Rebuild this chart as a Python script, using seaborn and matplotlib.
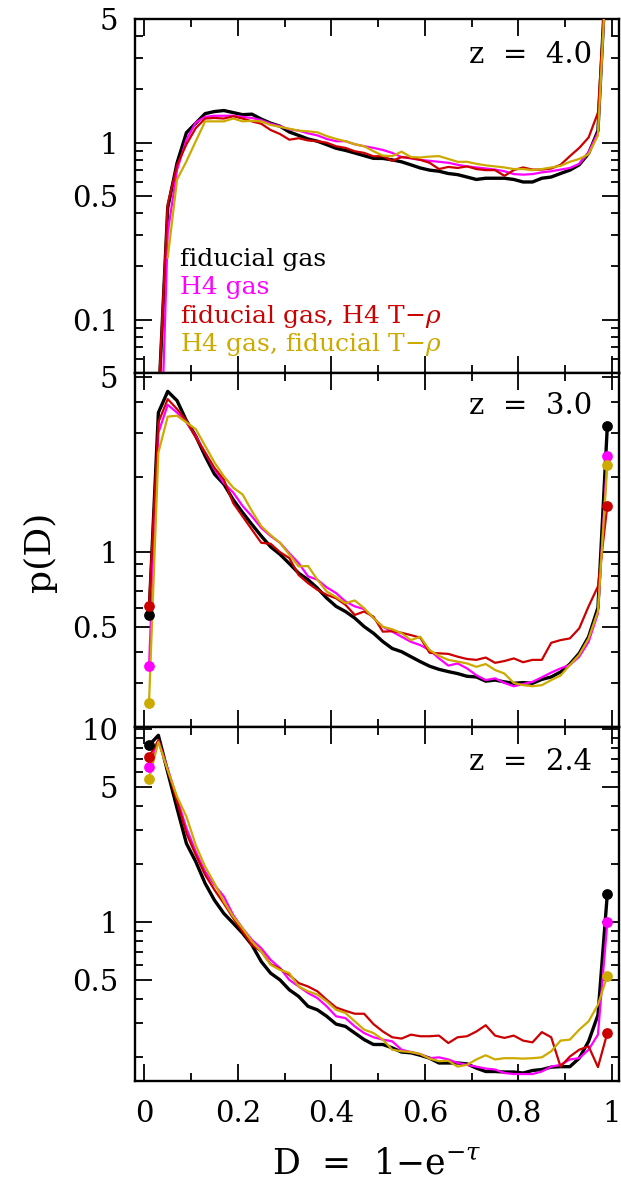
import numpy as np
import pandas as pd
import matplotlib
matplotlib.use("Agg")
import matplotlib.pyplot as plt
import seaborn as sns
from matplotlib.ticker import FixedLocator, FuncFormatter

# ---------------- data ----------------
D_bins = [0.01, 0.03, 0.05, 0.07, 0.09, 0.11, 0.13, 0.15, 0.17, 0.19,
          0.21, 0.23, 0.25, 0.27, 0.29, 0.31, 0.33, 0.35, 0.37, 0.39,
          0.41, 0.43, 0.45, 0.47, 0.49, 0.51, 0.53, 0.55, 0.57, 0.59,
          0.61, 0.63, 0.65, 0.67, 0.69, 0.71, 0.73, 0.75, 0.77, 0.79,
          0.81, 0.83, 0.85, 0.87, 0.89, 0.91, 0.93, 0.95, 0.97, 0.99]

series_names = ["fiducial gas", "H4 gas",
                r"fiducial gas, H4 T$-\rho$", r"H4 gas, fiducial T$-\rho$"]
series_colors = ["#000000", "#ff00ff", "#cc0000", "#ccaa00"]
series_widths = [2.4, 1.6, 1.6, 1.6]

nan = float("nan")

# z = 4.0
black_z40 = [nan, 0.033, 0.43, 0.77, 1.14, 1.29, 1.46, 1.50, 1.52, 1.48,
             1.44, 1.45, 1.36, 1.29, 1.24, 1.15, 1.10, 1.05, 1.02, 0.975,
             0.93, 0.905, 0.875, 0.845, 0.816, 0.815, 0.80, 0.78, 0.75, 0.72,
             0.70, 0.69, 0.67, 0.66, 0.64, 0.62, 0.63, 0.63, 0.63, 0.62,
             0.60, 0.60, 0.63, 0.64, 0.67, 0.70, 0.75, 0.87, 1.17, 13.0]
magenta_z40 = [nan, 0.006, 0.31, 0.705, 1.04, 1.30, 1.40, 1.42, 1.42, 1.42,
               1.40, 1.38, 1.34, 1.28, 1.24, 1.19, 1.17, 1.13, 1.10, 1.05,
               1.02, 1.02, 0.98, 0.955, 0.935, 0.91, 0.876, 0.83, 0.815, 0.80,
               0.79, 0.78, 0.77, 0.75, 0.735, 0.725, 0.715, 0.705, 0.69, 0.665,
               0.66, 0.665, 0.68, 0.69, 0.705, 0.72, 0.76, 0.885, 1.14, 12.0]
red_z40 = [nan, 0.035, 0.45, 0.75, 0.98, 1.21, 1.37, 1.38, 1.37, 1.41,
           1.37, 1.32, 1.28, 1.18, 1.12, 1.04, 1.06, 1.03, 1.02, 1.00,
           0.955, 0.935, 0.895, 0.876, 0.838, 0.84, 0.79, 0.83, 0.82, 0.80,
           0.77, 0.71, 0.73, 0.72, 0.735, 0.71, 0.70, 0.70, 0.65, 0.70,
           0.725, 0.705, 0.705, 0.715, 0.75, 0.84, 0.935, 1.07, 1.48, 11.0]
gold_z40 = [nan, nan, 0.224, 0.62, 0.785, 1.02, 1.32, 1.32, 1.32, 1.37,
            1.32, 1.33, 1.32, 1.26, 1.23, 1.20, 1.17, 1.16, 1.145, 1.09,
            1.05, 1.02, 0.98, 0.955, 0.895, 0.845, 0.84, 0.89, 0.83, 0.825,
            0.835, 0.84, 0.81, 0.78, 0.78, 0.76, 0.745, 0.735, 0.725, 0.71,
            0.71, 0.70, 0.71, 0.725, 0.74, 0.78, 0.81, 0.86, 1.10, 12.0]

# z = 3.0
black_z30 = [0.56, 3.61, 4.39, 4.03, 3.35, 2.91, 2.42, 2.05, 1.87, 1.62,
             1.44, 1.29, 1.16, 1.05, 0.98, 0.90, 0.824, 0.776, 0.718, 0.655,
             0.607, 0.579, 0.545, 0.504, 0.474, 0.439, 0.412, 0.40, 0.382, 0.365,
             0.35, 0.34, 0.333, 0.327, 0.319, 0.317, 0.305, 0.308, 0.303, 0.299,
             0.301, 0.299, 0.31, 0.317, 0.332, 0.357, 0.394, 0.459, 0.60, 3.18]
magenta_z30 = [0.35, 3.0, 3.88, 3.61, 3.30, 2.91, 2.50, 2.14, 1.89, 1.73,
               1.53, 1.39, 1.25, 1.16, 1.09, 0.99, 0.904, 0.80, 0.776, 0.723,
               0.686, 0.635, 0.607, 0.592, 0.545, 0.503, 0.481, 0.459, 0.438, 0.425,
               0.406, 0.376, 0.352, 0.359, 0.343, 0.322, 0.308, 0.313, 0.30, 0.291,
               0.297, 0.303, 0.316, 0.33, 0.343, 0.354, 0.382, 0.438, 0.57, 2.42]
red_z30 = [0.61, 3.30, 4.09, 3.73, 3.35, 2.87, 2.50, 2.17, 1.95, 1.57,
           1.39, 1.23, 1.09, 1.08, 1.00, 0.947, 0.81, 0.752, 0.707, 0.675,
           0.654, 0.616, 0.561, 0.579, 0.552, 0.481, 0.483, 0.476, 0.466, 0.455,
           0.396, 0.394, 0.392, 0.382, 0.374, 0.371, 0.379, 0.361, 0.367, 0.376,
           0.363, 0.371, 0.371, 0.434, 0.445, 0.452, 0.496, 0.607, 0.73, 1.53]
gold_z30 = [0.25, 2.50, 3.48, 3.51, 3.30, 3.10, 2.66, 2.28, 2.01, 1.81,
            1.70, 1.46, 1.27, 1.17, 1.09, 0.977, 0.877, 0.88, 0.776, 0.696,
            0.661, 0.625, 0.641, 0.597, 0.545, 0.503, 0.492, 0.474, 0.445, 0.459,
            0.406, 0.385, 0.371, 0.365, 0.359, 0.348, 0.357, 0.338, 0.327, 0.30,
            0.294, 0.291, 0.294, 0.308, 0.321, 0.354, 0.389, 0.452, 0.58, 2.22]

# z = 2.4
black_z24 = [8.28, 9.33, 6.0, 3.89, 2.56, 2.06, 1.59, 1.30, 1.11, 0.988,
             0.877, 0.762, 0.625, 0.544, 0.502, 0.446, 0.412, 0.366, 0.351, 0.325,
             0.296, 0.288, 0.266, 0.246, 0.232, 0.232, 0.223, 0.212, 0.21, 0.204,
             0.197, 0.186, 0.186, 0.186, 0.184, 0.175, 0.168, 0.168, 0.167, 0.167,
             0.165, 0.170, 0.172, 0.177, 0.178, 0.178, 0.197, 0.241, 0.33, 1.40]
magenta_z24 = [6.40, 8.79, 6.26, 4.38, 3.07, 2.32, 1.83, 1.56, 1.36, 1.09,
               0.93, 0.81, 0.733, 0.638, 0.578, 0.502, 0.464, 0.429, 0.404, 0.366,
               0.325, 0.318, 0.288, 0.266, 0.253, 0.246, 0.241, 0.218, 0.212, 0.207,
               0.197, 0.199, 0.194, 0.186, 0.182, 0.178, 0.174, 0.172, 0.165, 0.163,
               0.163, 0.163, 0.168, 0.178, 0.182, 0.194, 0.197, 0.218, 0.261, 1.00]
red_z24 = [7.21, 8.79, 6.15, 4.22, 2.89, 2.23, 1.76, 1.47, 1.25, 1.05,
           0.894, 0.762, 0.705, 0.606, 0.573, 0.533, 0.483, 0.464, 0.438, 0.396,
           0.361, 0.347, 0.335, 0.335, 0.296, 0.271, 0.253, 0.249, 0.261, 0.256,
           0.256, 0.258, 0.236, 0.253, 0.256, 0.271, 0.292, 0.258, 0.251, 0.258,
           0.243, 0.238, 0.269, 0.253, 0.178, 0.201, 0.218, 0.227, 0.177, 0.266]
gold_z24 = [5.56, 8.62, 6.15, 4.48, 3.53, 2.51, 1.94, 1.59, 1.28, 1.07,
            0.93, 0.794, 0.705, 0.601, 0.566, 0.544, 0.464, 0.438, 0.421, 0.388,
            0.351, 0.338, 0.306, 0.277, 0.266, 0.246, 0.218, 0.214, 0.212, 0.207,
            0.196, 0.19, 0.191, 0.178, 0.182, 0.194, 0.204, 0.194, 0.197, 0.197,
            0.196, 0.197, 0.199, 0.214, 0.243, 0.246, 0.277, 0.306, 0.373, 0.527]

panel_labels = ["z  =  4.0", "z  =  3.0", "z  =  2.4"]
panel_series = [
    [black_z40, magenta_z40, red_z40, gold_z40],
    [black_z30, magenta_z30, red_z30, gold_z30],
    [black_z24, magenta_z24, red_z24, gold_z24],
]
panel_ylims = [(0.05, 5.0), (0.2, 5.2), (0.15, 10.3)]
panel_ymajor = [[0.05, 0.1, 0.5, 1, 5], [0.5, 1, 5], [0.5, 1, 5, 10]]
panel_ylabels = [{0.1: "0.1", 0.5: "0.5", 1: "1", 5: "5"},
                 {0.5: "0.5", 1: "1", 5: "5"},
                 {0.5: "0.5", 1: "1", 5: "5", 10: "10"}]
y_minor = [0.06, 0.07, 0.08, 0.09, 0.2, 0.3, 0.4, 0.6, 0.7, 0.8, 0.9,
           2, 3, 4, 6, 7, 8, 9]
x_major = [0, 0.2, 0.4, 0.6, 0.8, 1.0]
x_major_labels = ["0", "0.2", "0.4", "0.6", "0.8", "1"]
x_minor = [0.1, 0.3, 0.5, 0.7, 0.9]

# ---------------- style ----------------
sns.set_style("ticks")
plt.rcParams["font.family"] = ["DejaVu Serif"]
plt.rcParams["mathtext.fontset"] = "dejavuserif"
plt.rcParams["axes.linewidth"] = 1.7
for key in ["text.color", "axes.labelcolor", "xtick.color", "ytick.color",
            "axes.edgecolor", "xtick.labelcolor", "ytick.labelcolor"]:
    plt.rcParams[key] = "black"

fig = plt.figure(figsize=(6.21, 11.8), dpi=100)
gs = fig.add_gridspec(3, 1, left=135 / 621, right=619 / 621,
                      top=1 - 19 / 1180, bottom=1 - 1081 / 1180, hspace=0)
axes = [fig.add_subplot(gs[i]) for i in range(3)]

for i, ax in enumerate(axes):
    ax.set_yscale("log")
    for name, vals, col, lw in zip(series_names, panel_series[i],
                                   series_colors, series_widths):
        df = pd.DataFrame({"D": D_bins, "p": vals})
        sns.lineplot(data=df, x="D", y="p", color=col, linewidth=lw,
                     estimator=None, sort=False, ax=ax, zorder=3)
        ends = df.iloc[[0, -1]].dropna()
        sns.scatterplot(data=ends, x="D", y="p", color=col, s=60,
                        linewidth=0, ax=ax, zorder=4)
    ax.set_xlim(-0.02, 1.015)
    ax.set_ylim(*panel_ylims[i])

    lab = panel_ylabels[i]
    ax.yaxis.set_major_locator(FixedLocator(panel_ymajor[i]))
    ax.yaxis.set_minor_locator(FixedLocator(y_minor))
    ax.yaxis.set_major_formatter(
        FuncFormatter(lambda v, pos, lab=lab: lab.get(round(v, 4), "")))
    ax.yaxis.set_minor_formatter(FuncFormatter(lambda v, pos: ""))
    ax.xaxis.set_major_locator(FixedLocator(x_major))
    ax.xaxis.set_minor_locator(FixedLocator(x_minor))
    ax.xaxis.set_major_formatter(
        FuncFormatter(lambda v, pos: x_major_labels[pos]
                      if pos is not None and pos < len(x_major_labels) else ""))

    ax.tick_params(which="both", direction="in", top=True, right=True,
                   width=1.3, colors="black", labelcolor="black")
    ax.tick_params(which="major", length=12, labelsize=21)
    ax.tick_params(which="minor", length=6)
    ax.tick_params(axis="y", which="major", pad=12)
    ax.tick_params(axis="x", which="major", pad=14)
    if i < 2:
        ax.tick_params(axis="x", labelbottom=False)

    ax.set_xlabel("")
    ax.set_ylabel("")
    for sp in ax.spines.values():
        sp.set_visible(True)
        sp.set_linewidth(1.7)
        sp.set_color("black")

    ax.text(0.944, [0.876, 0.884, 0.878][i], panel_labels[i],
            transform=ax.transAxes, ha="right", va="baseline",
            fontsize=21, color="black")

# legend as coloured text in the top panel
for k, (name, col) in enumerate(zip(series_names, series_colors)):
    axes[0].text(0.093, [0.302, 0.222, 0.142, 0.062][k], name,
                 transform=axes[0].transAxes, ha="left", va="baseline",
                 fontsize=18, color=col)

axes[2].set_xlabel(r"D  =  1$-$e$^{-\tau}$", fontsize=25, color="black")
axes[2].xaxis.set_label_coords(0.5, -0.26)
axes[2].xaxis.label.set_va("baseline")

fig.text(40 / 621, 1 - 552 / 1180, "p(D)", rotation=90, ha="center",
         va="center", fontsize=26, color="black")

fig.savefig("out.png", dpi=100)
